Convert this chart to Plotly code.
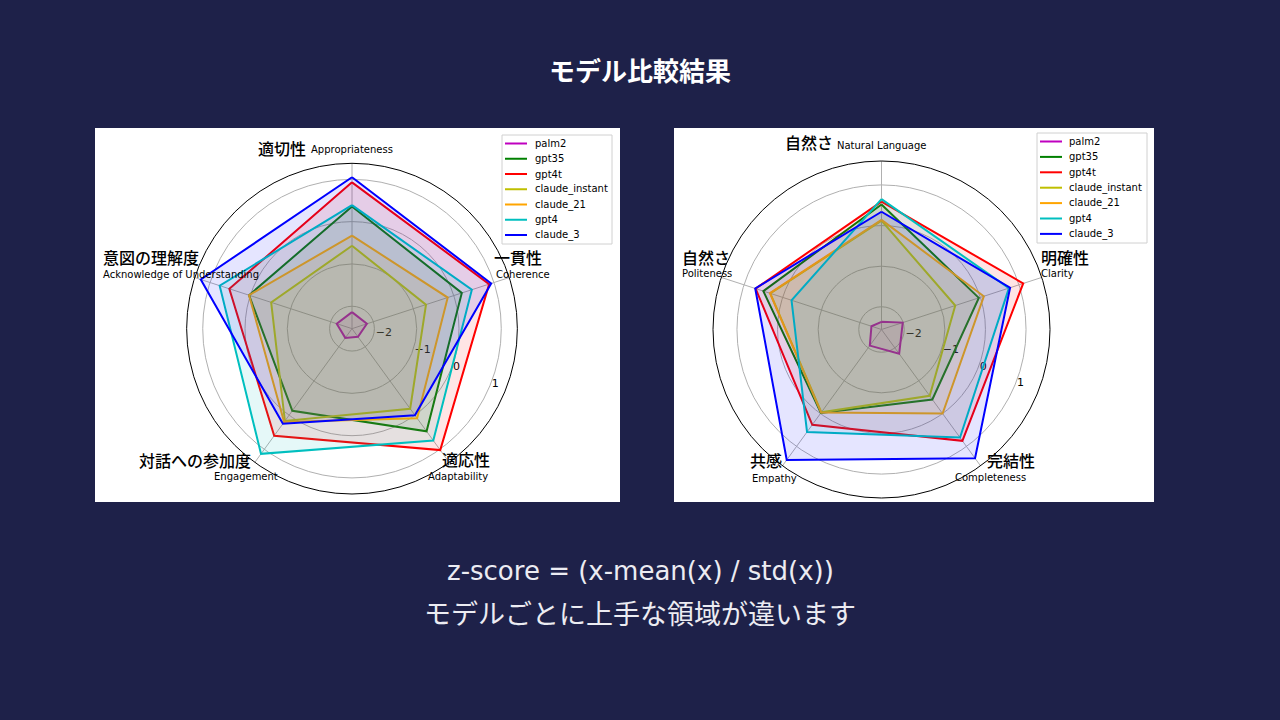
import plotly.graph_objects as go

# ---------------- data ----------------
models = ["palm2", "gpt35", "gpt4t", "claude_instant", "claude_21", "gpt4", "claude_3"]
colors = ["#bf00bf", "#008000", "#ff0000", "#bfbf00", "#ffa500", "#00bfbf", "#0000ff"]

left_axes_en = ["Appropriateness", "Coherence", "Adaptability", "Engagement", "Acknowledge of Understanding"]
left_axes_ja = ["適切性", "一貫性", "適応性", "対話への参加度", "意図の理解度"]
right_axes_en = ["Natural Language", "Clarity", "Completeness", "Empathy", "Politeness"]
right_axes_ja = ["自然さ", "明確性", "完結性", "共感", "自然さ"]
radial_ticks = [-2, -1, 0, 1]

left_palm2 = [-2.14, -2.16, -2.29, -2.26, -2.15]
left_gpt35 = [0.36, 0.20, 0.47, -0.13, 0.03]
left_gpt4t = [0.93, 0.88, 1.02, 0.60, 0.52]
left_claude_instant = [-0.57, -0.69, -0.19, 0.17, -0.52]
left_claude_21 = [-0.33, -0.15, 0.09, 0.20, 0.03]
left_gpt4 = [0.39, 0.45, 0.74, 1.13, 0.76]
left_claude_3 = [1.05, 0.93, 0.00, 0.25, 1.23]

right_palm2 = [-2.37, -2.01, -1.82, -2.07, -2.30]
right_gpt35 = [0.52, -0.04, -0.43, -0.02, 0.50]
right_gpt4t = [0.59, 1.11, 0.83, 0.34, 0.70]
right_claude_instant = [0.12, -0.65, -0.54, -0.04, 0.32]
right_claude_21 = [0.14, 0.09, 0.00, -0.03, 0.33]
right_gpt4 = [0.65, 0.74, 0.73, 0.56, -0.23]
right_claude_3 = [0.34, 0.77, 1.36, 1.41, 0.71]

title_text = "モデル比較結果"
caption_lines = ["z-score = (x-mean(x) / std(x))", "モデルごとに上手な領域が違います"]

left_series = [left_palm2, left_gpt35, left_gpt4t, left_claude_instant, left_claude_21, left_gpt4, left_claude_3]
right_series = [right_palm2, right_gpt35, right_gpt4t, right_claude_instant, right_claude_21, right_gpt4, right_claude_3]

# ---------------- layout helpers ----------------
W, H = 1280, 720
BG = "#1e2149"
JP = "Noto Sans CJK JP"
EN = "DejaVu Sans"


def X(px):
    return px / W


def Y(py):
    return 1 - py / H


def rgba(hex_color, a):
    h = hex_color.lstrip("#")
    return "rgba(%d,%d,%d,%s)" % (int(h[0:2], 16), int(h[2:4], 16), int(h[4:6], 16), a)


fig = go.Figure()

for subplot, cats, series in (("polar", left_axes_en, left_series), ("polar2", right_axes_en, right_series)):
    for name, col, vals in zip(models, colors, series):
        fig.add_trace(go.Scatterpolar(
            r=vals + vals[:1], theta=cats + cats[:1], mode="lines",
            line=dict(color=col, width=2), fill="toself", fillcolor=rgba(col, 0.1),
            name=name, showlegend=False, subplot=subplot, hoverinfo="skip"))


def polar_layout(cx, cy, R, rng):
    return dict(
        domain=dict(x=[X(cx - R), X(cx + R)], y=[Y(cy + R), Y(cy - R)]),
        bgcolor="white",
        angularaxis=dict(direction="clockwise", rotation=90, showticklabels=False, ticks="",
                         gridcolor="#b0b0b0", gridwidth=1, showline=True, linecolor="black",
                         linewidth=1, layer="below traces"),
        radialaxis=dict(range=rng, tickvals=radial_ticks, showline=False, ticks="",
                        gridcolor="#b0b0b0", gridwidth=1, angle=-24, tickangle=-24,
                        tickfont=dict(size=11, color="black", family=EN), layer="below traces",
                        side="counterclockwise"),
    )


# white panels
for x0, x1 in ((95, 620), (674, 1154)):
    fig.add_shape(type="rect", xref="paper", yref="paper", x0=X(x0), x1=X(x1), y0=Y(502), y1=Y(128),
                  fillcolor="white", line=dict(width=0), layer="below")

# category labels (Japanese large + English small)
left_ja_pos = [(257, 148), (493, 257.5), (441, 459), (138, 460), (102, 257)]
left_en_pos = [(310, 149.5), (495, 274), (427, 476), (213, 476), (102, 274)]
right_ja_pos = [(784, 142), (1040, 257.5), (986, 460.5), (749, 460.5), (681, 257.5)]
right_en_pos = [(836, 146), (1040, 273.5), (954, 477.5), (751, 478), (681, 273)]

for ja, en, jp_pos, en_pos in ((left_axes_ja, left_axes_en, left_ja_pos, left_en_pos),
                               (right_axes_ja, right_axes_en, right_ja_pos, right_en_pos)):
    for t, (px, py) in zip(ja, jp_pos):
        fig.add_annotation(text=t, x=X(px), y=Y(py), xref="paper", yref="paper", xanchor="left",
                           yanchor="middle", showarrow=False, borderpad=0,
                           font=dict(size=16, family=JP, color="black", weight=500))
    for t, (px, py) in zip(en, en_pos):
        fig.add_annotation(text=t, x=X(px), y=Y(py), xref="paper", yref="paper", xanchor="left",
                           yanchor="middle", showarrow=False, borderpad=0,
                           font=dict(size=10, family=EN, color="black"))


# legends drawn as boxes with line samples
def add_legend(bx0, by0, bx1, by1, lx0, lx1, tx, first_y, step):
    fig.add_shape(type="rect", xref="paper", yref="paper", x0=X(bx0), x1=X(bx1), y0=Y(by1), y1=Y(by0),
                  fillcolor="rgba(255,255,255,0.85)", line=dict(color="#d0d0d0", width=1), layer="above")
    for i, (name, col) in enumerate(zip(models, colors)):
        yy = first_y + i * step
        fig.add_shape(type="line", xref="paper", yref="paper", x0=X(lx0), x1=X(lx1), y0=Y(yy), y1=Y(yy),
                      line=dict(color=col, width=2), layer="above")
        fig.add_annotation(text=name, x=X(tx), y=Y(yy), xref="paper", yref="paper", xanchor="left",
                           yanchor="middle", showarrow=False, borderpad=0,
                           font=dict(size=10, family=EN, color="black"))


add_legend(502, 135, 612, 244, 505, 527, 534, 143.5, 15.25)
add_legend(1037, 133, 1147, 243, 1040, 1062, 1068, 141.5, 15.4)

# title and caption
fig.add_annotation(text="<b>%s</b>" % title_text, x=0.5, y=Y(69), xref="paper", yref="paper",
                   xanchor="center", yanchor="middle", showarrow=False,
                   font=dict(size=26, family=JP, color="white"))
fig.add_annotation(text=caption_lines[0], x=0.5, y=Y(571), xref="paper", yref="paper", xanchor="center",
                   yanchor="middle", showarrow=False, font=dict(size=26, family=EN, color="#ececf2"))
fig.add_annotation(text=caption_lines[1], x=0.5, y=Y(612), xref="paper", yref="paper", xanchor="center",
                   yanchor="middle", showarrow=False, font=dict(size=27, family=JP, color="#ececf2"))

fig.update_layout(
    width=W, height=H, margin=dict(l=0, r=0, t=0, b=0),
    paper_bgcolor=BG, plot_bgcolor=BG, showlegend=False,
    polar=polar_layout(352, 328.65, 165.35, [-2.53, 1.38]),
    polar2=polar_layout(881.5, 329.5, 168.5, [-2.56, 1.59]),
)

fig.write_html(
    "out.html",
    config={"displayModeBar": False},
    post_script="document.body.style.margin='0';document.body.style.background='%s';"
                "document.body.style.overflow='hidden';" % BG,
)
